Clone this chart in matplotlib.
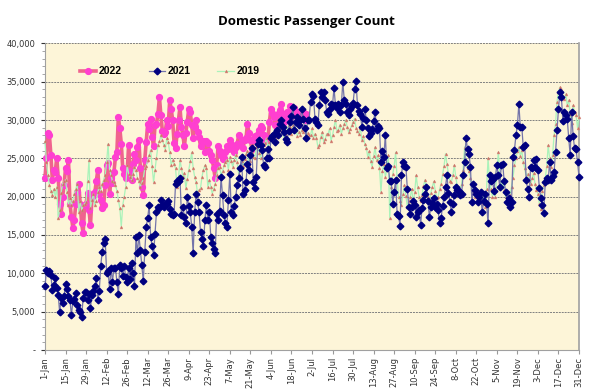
import matplotlib
matplotlib.use("Agg")
import matplotlib.pyplot as plt
import numpy as np
from matplotlib.ticker import FuncFormatter, MultipleLocator

# daily domestic passengers, thousands (day 0 = 1-Jan)
pax_2022_k = [
    22.5, 25.0, 28.3, 28.0, 25.5, 22.2, 23.5, 23.2, 25.1, 22.5,
    19.1, 17.8, 20.0, 21.5, 23.7, 23.3, 24.8, 19.1, 17.4, 15.9,
    17.0, 19.1, 20.6, 21.6, 19.1, 16.5, 15.2, 18.9, 19.1, 20.5,
    18.2, 16.3, 19.9, 20.4, 20.6, 22.0, 23.5, 20.4, 19.6, 18.5,
    18.9, 21.5, 24.1, 24.4, 20.4, 22.4, 21.8, 23.2, 25.2, 25.8,
    30.4, 28.9, 26.9, 23.7, 22.9, 22.4, 23.1, 26.7, 23.4, 22.2,
    24.3, 25.6, 24.8, 26.5, 27.4, 23.7, 21.3, 20.2, 24.8, 27.1,
    29.5, 28.8, 30.1, 27.8, 26.6, 29.3, 29.5, 30.8, 33.0, 30.6,
    28.6, 28.2, 28.4, 30.0, 29.2, 32.6, 31.5, 30.0, 27.0, 26.3,
    28.2, 30.0, 31.7, 29.1, 28.0, 26.6, 28.3, 29.8, 31.4, 31.1,
    29.4, 27.6, 29.1, 30.0, 28.4, 27.8, 26.6, 27.2, 27.2, 25.8,
    27.2, 27.0, 25.9, 25.4, 24.8, 23.7, 22.4, 24.1, 26.6, 26.0,
    25.4, 24.9, 25.1, 25.8, 26.6, 26.2, 27.4, 26.9, 26.1, 25.8,
    26.5, 26.9, 28.0, 26.9, 27.4, 26.3, 27.4, 27.6, 29.5, 28.3,
    27.4, 26.2, 27.4, 27.9, 27.4, 28.2, 28.7, 29.2, 28.9, 28.0,
    27.4, 27.4, 27.6, 29.8, 31.5, 30.9, 30.4, 29.3, 29.1, 30.8,
    31.3, 32.1, 30.8, 29.7, 30.2, 31.0, 30.8, 31.8, 30.4, 31.3,
    31.6, 30.6, 31.0, 30.4, 30.8, 30.5, 31.1, 30.0, 30.8,
]

pax_2021_k = [
    8.3, 10.4, 10.0, 10.3, 9.8, 7.8, 8.5, 9.4, 8.1, 7.2,
    4.9, 6.8, 6.1, 7.0, 8.6, 8.0, 7.0, 6.5, 4.5, 6.4,
    6.6, 7.4, 5.9, 5.2, 5.0, 4.3, 6.8, 7.6, 7.6, 6.5,
    7.3, 5.5, 7.2, 7.7, 8.3, 9.4, 6.5, 7.7, 11.0, 12.8,
    13.9, 14.5, 10.1, 10.3, 8.0, 10.7, 8.9, 10.7, 10.7, 8.9,
    7.3, 11.1, 10.7, 9.7, 11.0, 9.5, 8.9, 10.7, 9.2, 11.4,
    10.0, 8.3, 14.8, 12.6, 15.0, 13.0, 11.1, 9.0, 12.8, 16.1,
    17.2, 18.9, 14.8, 13.5, 12.4, 15.1, 18.0, 18.7, 18.5, 19.6,
    18.9, 18.7, 19.0, 19.0, 19.5, 18.4, 17.8, 17.6, 17.8, 21.7,
    22.0, 22.0, 22.5, 17.6, 18.7, 17.4, 16.5, 20.0, 18.8, 18.0,
    16.1, 12.6, 18.0, 20.4, 19.3, 18.0, 15.4, 14.5, 13.5, 17.0,
    18.9, 17.0, 18.0, 14.8, 13.9, 13.2, 12.6, 17.8, 17.0, 18.1,
    22.6, 20.2, 17.6, 16.5, 16.1, 19.6, 23.0, 18.0, 17.6, 18.8,
    20.0, 21.5, 22.4, 23.8, 25.2, 20.4, 20.9, 21.9, 24.3, 23.5,
    25.4, 26.3, 21.9, 21.1, 22.6, 26.9, 27.4, 26.8, 26.1, 24.1,
    23.9, 25.0, 26.2, 25.0, 27.6, 27.9, 28.2, 27.1, 28.7, 28.0,
    29.5, 30.0, 29.1, 28.4, 27.5, 27.1, 28.6, 29.8, 30.5, 31.7,
    28.7, 29.8, 30.4, 29.3, 30.0, 31.5, 30.2, 29.0, 27.7, 30.0,
    30.0, 32.4, 33.4, 33.2, 30.2, 29.8, 29.3, 31.9, 33.6, 33.0,
    33.7, 32.6, 31.1, 30.8, 31.5, 32.1, 32.0, 34.2, 31.9, 31.6,
    32.1, 31.1, 31.9, 35.0, 32.6, 32.1, 31.0, 30.6, 31.5, 31.8,
    32.2, 34.1, 35.1, 31.9, 31.2, 30.8, 29.1, 30.3, 31.5, 30.0,
    29.0, 27.9, 28.3, 28.8, 29.9, 31.1, 28.7, 29.2, 28.9, 24.5,
    26.0, 25.2, 28.1, 23.7, 24.0, 22.1, 22.1, 19.1, 20.6, 22.2,
    17.8, 17.5, 16.2, 22.8, 24.5, 24.0, 23.9, 21.0, 18.7, 17.8,
    18.6, 19.5, 18.9, 17.4, 18.0, 18.2, 16.3, 18.5, 19.6, 20.4,
    21.3, 19.5, 17.4, 18.6, 19.2, 19.8, 18.7, 19.0, 18.2, 16.5,
    17.2, 18.8, 20.0, 21.3, 22.8, 20.5, 19.3, 18.0, 19.0, 20.2,
    21.3, 20.9, 20.8, 20.2, 20.4, 22.8, 24.5, 27.6, 26.2, 25.6,
    23.9, 19.3, 21.7, 20.9, 20.4, 19.3, 20.0, 20.6, 18.0, 19.4,
    20.3, 19.1, 16.5, 22.8, 22.0, 22.2, 20.8, 22.6, 24.1, 22.8,
    21.3, 24.1, 24.3, 22.0, 20.6, 19.3, 19.8, 18.7, 19.3, 25.2,
    26.1, 28.0, 29.3, 32.1, 29.1, 29.1, 26.5, 26.7, 22.2, 21.0,
    20.0, 23.9, 23.7, 24.8, 23.9, 24.9, 23.5, 21.1, 19.8, 18.9,
    17.9, 21.9, 22.4, 22.2, 24.5, 22.2, 22.7, 23.2, 25.8, 28.7,
    31.4, 33.7, 33.0, 29.9, 31.1, 30.6, 30.1, 27.6, 25.4, 31.0,
    27.9, 26.3, 26.2, 24.5, 22.6,
]

pax_2019_k = [
    27.2, 24.5, 22.8, 21.5, 20.8, 20.2, 21.0, 20.0, 21.3, 17.2,
    18.2, 20.5, 21.7, 22.0, 22.2, 20.6, 18.9, 19.8, 18.9, 19.5,
    20.4, 21.0, 21.7, 18.0, 19.4, 18.2, 18.9, 19.1, 19.3, 22.0,
    24.8, 18.5, 19.6, 20.4, 18.9, 19.5, 20.6, 21.3, 20.8, 21.7,
    22.2, 22.8, 24.5, 26.9, 23.5, 22.8, 22.0, 21.9, 21.5, 20.8,
    19.6, 18.5, 16.1, 18.9, 20.0, 21.3, 24.1, 23.0, 22.6, 22.2,
    23.0, 23.9, 23.5, 22.4, 22.0, 21.3, 21.8, 22.4, 23.7, 24.0,
    24.8, 25.4, 26.1, 24.0, 21.9, 23.5, 25.0, 26.7, 27.2, 28.0,
    27.4, 26.8, 26.1, 27.6, 27.1, 25.8, 24.1, 24.8, 24.2, 23.7,
    21.3, 22.4, 24.8, 23.7, 22.6, 23.1, 21.1, 22.3, 23.5, 24.6,
    25.8, 23.7, 22.6, 21.9, 20.4, 20.9, 21.1, 22.6, 23.5, 24.1,
    23.7, 21.3, 22.2, 21.3, 20.4, 21.0, 21.7, 22.8, 23.7, 23.9,
    22.8, 23.3, 24.1, 24.5, 24.8, 23.5, 25.2, 24.6, 23.9, 24.8,
    25.5, 24.5, 23.0, 23.5, 24.6, 24.0, 24.9, 25.6, 26.0, 24.1,
    24.7, 25.8, 25.2, 25.0, 26.5, 27.0, 25.7, 25.0, 26.1, 26.7,
    27.0, 27.6, 26.4, 27.1, 27.5, 28.2, 28.0, 27.0, 27.8, 28.3,
    28.7, 29.0, 28.4, 27.6, 28.0, 28.5, 29.4, 29.1, 28.2, 29.3,
    29.6, 28.7, 27.9, 28.5, 28.1, 28.7, 28.5, 29.1, 27.6, 28.3,
    28.0, 28.0, 28.9, 27.6, 28.2, 27.7, 26.5, 26.7, 27.8, 28.4,
    27.1, 27.5, 28.2, 28.2, 28.9, 27.3, 28.0, 29.1, 30.0, 28.6,
    28.7, 29.4, 28.2, 28.9, 29.5, 30.0, 29.1, 28.4, 28.8, 29.3,
    29.8, 30.2, 29.0, 28.6, 28.2, 28.9, 27.4, 27.9, 26.9, 26.4,
    25.2, 25.9, 24.6, 23.9, 25.3, 26.5, 24.8, 25.4, 23.8, 20.6,
    23.4, 24.2, 22.6, 23.5, 25.4, 17.2, 21.3, 22.9, 24.0, 25.8,
    22.4, 20.0, 19.5, 18.9, 20.4, 21.5, 20.1, 18.7, 19.4, 20.0,
    21.0, 19.1, 20.6, 22.8, 21.2, 20.0, 19.5, 20.2, 21.4, 22.2,
    21.0, 20.0, 19.6, 20.5, 21.3, 22.0, 20.8, 19.8, 20.0, 21.0,
    21.7, 22.9, 24.0, 25.6, 24.2, 23.0, 22.1, 21.9, 22.8, 24.1,
    22.6, 21.4, 20.8, 21.0, 21.7, 23.5, 26.5, 24.6, 23.8, 23.4,
    22.5, 21.7, 20.6, 20.0, 20.8, 19.3, 20.2, 19.7, 19.1, 20.4,
    18.7, 21.0, 25.0, 22.3, 21.0, 20.0, 21.2, 20.0, 23.1, 25.8,
    23.0, 21.3, 22.0, 20.9, 20.0, 19.4, 18.7, 20.2, 21.3, 22.5,
    24.1, 25.0, 25.9, 26.5, 25.3, 26.1, 24.5, 23.7, 22.6, 23.0,
    22.0, 21.6, 22.4, 23.1, 21.7, 20.9, 20.4, 19.0, 18.4, 20.8,
    21.5, 22.4, 24.0, 26.7, 25.0, 23.9, 25.5, 28.0, 29.5, 32.4,
    33.7, 34.3, 34.1, 33.0, 32.8, 33.4, 31.9, 32.6, 30.8, 29.6,
    31.9, 31.0, 30.6, 29.0, 30.4,
]

date_labels = [
    "1-Jan", "15-Jan", "29-Jan", "12-Feb", "26-Feb", "12-Mar", "26-Mar",
    "9-Apr", "23-Apr", "7-May", "21-May", "4-Jun", "18-Jun", "2-Jul",
    "16-Jul", "30-Jul", "13-Aug", "27-Aug", "10-Sep", "24-Sep", "8-Oct",
    "22-Oct", "5-Nov", "19-Nov", "3-Dec", "17-Dec", "31-Dec",
]

y22 = np.array(pax_2022_k) * 1000
y21 = np.array(pax_2021_k) * 1000
y19 = np.array(pax_2019_k) * 1000

fig = plt.figure(figsize=(6.0, 3.91), dpi=100)
ax = fig.add_axes([0.075, 0.105, 0.89, 0.784])
ax.set_facecolor("#FDF5D8")

ax.plot(np.arange(len(y22)), y22, color="#F0638E", lw=2.6, marker="o",
        ms=4.2, mfc="#FF3FD0", mec="#FF3FD0", label="2022", zorder=3,
        clip_on=False)
ax.plot(np.arange(len(y21)), y21, color="#7474AA", lw=0.9, marker="D",
        ms=3.4, mfc="#000080", mec="#000080", label="2021", zorder=5,
        clip_on=False)
ax.plot(np.arange(len(y19)), y19, color="#AAF3BA", lw=0.9, marker="^",
        ms=2.0, mfc="#CC6A5E", mec="#D58A7E", mew=0.4, label="2019",
        zorder=4, clip_on=False)

ax.set_xlim(0, 364)
ax.set_ylim(0, 40000)
ax.set_xticks(np.arange(0, 365, 14))
ax.set_xticklabels(date_labels, rotation=90, fontsize=6, color="#333333")
ax.yaxis.set_major_locator(MultipleLocator(5000))
ax.yaxis.set_minor_locator(MultipleLocator(1000))
ax.yaxis.set_major_formatter(
    FuncFormatter(lambda v, p: "-" if v == 0 else f"{int(v):,}"))
ax.tick_params(axis="y", labelsize=6, colors="#333333", length=3, pad=4)
ax.tick_params(axis="y", which="minor", length=2, color="#999999")
ax.tick_params(axis="x", length=3, pad=2, color="#999999")

ax.grid(axis="y", color="#808080", ls=(0, (2, 1)), lw=0.7)
ax.set_axisbelow(True)
for side in ("left", "bottom", "right", "top"):
    ax.spines[side].set_color("#A0A0A0")
ax.spines["right"].set_linewidth(1.2)
ax.spines["top"].set_visible(False)

ax.legend(loc="center left", bbox_to_anchor=(0.065, 0.909), ncol=3,
          frameon=False, handlelength=1.6, handletextpad=0.2,
          columnspacing=2.6, borderpad=0, borderaxespad=0,
          prop={"family": "Liberation Sans", "weight": "bold", "size": 7.5})

fig.text(0.51, 0.944, "Domestic Passenger Count", ha="center", va="center",
         fontsize=9.5, fontweight="bold", family="Open Sans")

fig.savefig("out.png", dpi=100)
